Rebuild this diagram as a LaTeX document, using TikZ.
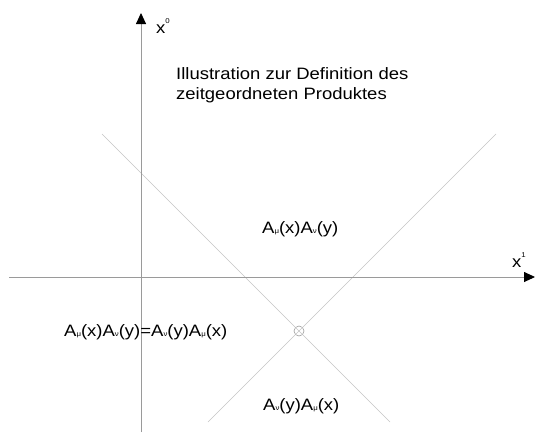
\documentclass[tikz,border=0pt]{standalone}
\usepackage{fontspec}
\setsansfont{Liberation Sans}[FakeStretch=1.12]
\usetikzlibrary{arrows.meta}
\definecolor{axisGray}{HTML}{9A9A9A}
\definecolor{coneGray}{HTML}{C4C4C4}
\newcommand{\lsub}[1]{{\fontsize{7}{7}\selectfont #1}}
\newcommand{\lsup}[1]{\raisebox{10pt}{\fontsize{7}{7}\selectfont #1}}

\begin{document}
\begin{tikzpicture}[x=1pt, y=-1pt,
  every node/.style={font=\sffamily\fontsize{16.5}{20}\selectfont, inner sep=0pt},
  axis/.style={axisGray, line width=0.9pt,
    -{Triangle[length=11pt, width=10pt, color=black]}},
  cone/.style={coneGray, line width=0.5pt},
  lbl/.style={anchor=base west},
]
\useasboundingbox (0,0) rectangle (535,432);

% Light cone through the event point
\node[circle, draw=axisGray, line width=0.6pt, minimum size=10pt] (ev) at (299,331) {};
\coordinate (ul) at (102,134);
\coordinate (ur) at (496,134);
\coordinate (ll) at (208,422);
\coordinate (lr) at (390,422);
\draw[cone] (ul) -- (lr);
\draw[cone] (ur) -- (ll);

% Axes
\coordinate (t0) at (141,432);
\coordinate (x0) at (141,13);
\coordinate (t1) at (9,277);
\coordinate (x1) at (535,277);
\draw[axis] (t0) -- (x0);
\draw[axis] (t1) -- (x1);

% Axis labels
\node[lbl] (lx0) at (156,33) {x\lsup{0}};
\node[lbl] (lx1) at (512,267) {x\lsup{1}};

% Title
\node[anchor=north west, align=left] (title) at (176,67)
  {Illustration zur Definition des\\zeitgeordneten Produktes};

% Regions
\node[lbl] (later) at (262,233) {A\lsub{μ}(x)A\lsub{ν}(y)};
\node[lbl] (space) at (64,336) {A\lsub{μ}(x)A\lsub{ν}(y)=A\lsub{ν}(y)A\lsub{μ}(x)};
\node[lbl] (earlier) at (263,410) {A\lsub{ν}(y)A\lsub{μ}(x)};

\end{tikzpicture}
\end{document}
